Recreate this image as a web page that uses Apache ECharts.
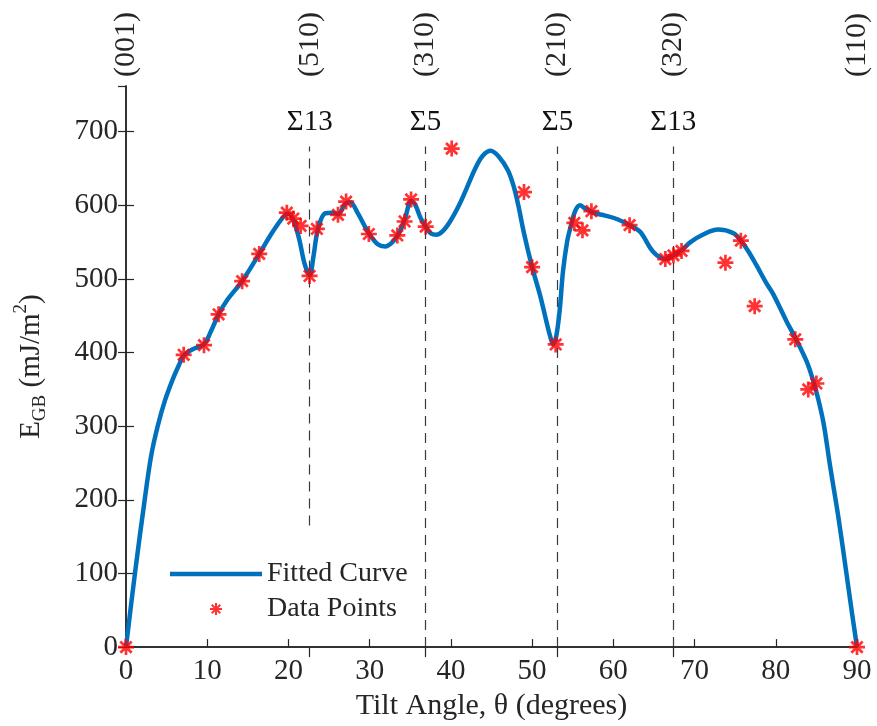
<!DOCTYPE html>
<html>
<head>
<meta charset="utf-8">
<script src="https://cdn.jsdelivr.net/npm/echarts@6/dist/echarts.min.js"></script>
<style>html,body{margin:0;padding:0;background:#fff;}#c{width:877px;height:726px;}</style>
</head>
<body>
<div id="c"></div>
<script>
// Fitted curve
const curveX = [0,1.1,2.3,3.1,3.9,4.8,5.8,6.6,7.1,8.3,9.6,10.5,11.4,12.5,14.3,16.4,18.0,19.2,19.9,20.6,21.3,22.0,22.6,23.1,23.6,24.5,25.5,26.1,27.0,27.6,28.5,29.9,31.0,31.9,32.8,33.6,34.4,35.1,35.6,36.3,36.9,37.5,38.2,39.0,39.9,41.0,41.9,43.0,43.9,44.9,45.9,47.0,47.7,48.3,49.0,50.0,51.0,51.7,52.2,52.6,53.0,53.4,53.8,54.3,54.7,55.3,55.9,56.5,57.5,59.0,60.5,62.0,63.3,64.9,66.4,67.4,68.4,69.5,71.0,72.9,74.8,75.7,76.6,77.6,78.8,79.7,81.3,82.4,83.8,84.6,85.2,85.9,86.7,87.7,88.7,89.4,90];
const curveY = [0,100,200,260,300,335,365,385,396,405,411,430,452,472,497,534,563,582,589,580,555,520,505,532,566,589,590,588,602,604,590,562,547,544,550,562,584,606,601,582,571,562,560,565,578,600,622,650,667,674,666,648,627,600,562,516,477,445,423,411,424,458,510,550,569,592,600,596,590,586,581,573,564,537,527,532,539,550,560,567,562,552,538,519,495,479,443,420,388,362,338,303,245,177,100,45,0];
// Data points
const ptX = [0,7.1,9.6,11.4,14.3,16.4,19.8,20.6,21.5,22.6,23.5,26.1,27.1,29.9,33.4,34.3,35.1,36.9,40.1,49.0,50.0,52.9,55.2,56.2,57.3,62.0,66.4,67.4,68.4,73.8,75.7,77.4,82.4,84.0,85.0,90];
const ptY = [0,397,410,452,497,534,590,582,572,504,568,587,605,561,559,578,608,571,677,618,516,411,576,566,592,573,527,532,538,522,552,463,418,350,358,0];
// Top orientation labels
const orientAngles = [0,22.62,36.87,53.13,67.38,90];
const orientNames = ['(001)','(510)','(310)','(210)','(320)','(110)'];
// Sigma boundaries (dashed reference lines)
const sigmaAngles = [22.62,36.87,53.13,67.38];
const sigmaNames = ['Σ13','Σ5','Σ5','Σ13'];
const sigmaBottom = [165,0,0,0];
const sigmaTop = 680;
const yTicks = [0,100,200,300,400,500,600,700];

const FF = '"Liberation Serif","Times New Roman",serif';
const TC = '#262626';
const AX = '#262626';
const star = 'path://M0,8.3L20,8.3L20,11.7L0,11.7Z M8.3,0L11.7,0L11.7,20L8.3,20Z M4.13,1.73L18.27,15.87L15.87,18.27L1.73,4.13Z M15.87,1.73L18.27,4.13L4.13,18.27L1.73,15.87Z';
const lineIcon = 'path://M0,0L92,0L92,0.01L0,0.01Z M0,3.75L92,3.75L92,8.25L0,8.25Z M0,11.99L92,11.99L92,12L0,12Z';

const chart = echarts.init(document.getElementById('c'), null, {renderer:'canvas'});
const axisLine = {show:true, lineStyle:{color:AX, width:1.5}};
const option = {
  backgroundColor:'#fff',
  animation:false,
  grid:{left:126, right:20, top:86, bottom:75, containLabel:false},
  xAxis:[{
    type:'value', position:'bottom', min:0, max:90, interval:10,
    axisLine:axisLine, splitLine:{show:false},
    axisTick:{show:true, inside:true, length:8, lineStyle:{color:AX, width:1.2}},
    axisLabel:{fontSize:29, fontFamily:FF, color:TC, margin:10},
    name:'Tilt Angle, θ (degrees)', nameLocation:'middle', nameGap:42,
    nameTextStyle:{fontSize:30, fontFamily:FF, color:TC}
  },{
    type:'value', position:'top', min:0, max:90,
    axisLine:axisLine, splitLine:{show:false},
    axisTick:{show:true, inside:true, length:10, customValues:sigmaAngles, lineStyle:{color:AX, width:1.2}},
    axisLabel:{show:true, rotate:90, fontSize:30, fontFamily:FF, color:TC, margin:9,
      customValues:orientAngles,
      formatter:function(v){const i=orientAngles.indexOf(v); return i>=0?orientNames[i]:'';}}
  }],
  yAxis:[{
    type:'value', position:'left', min:0, max:762, interval:100,
    axisLine:axisLine, splitLine:{show:false},
    axisTick:{show:true, inside:true, length:8, lineStyle:{color:AX, width:1.2}},
    axisLabel:{fontSize:29, fontFamily:FF, color:TC, margin:8, showMaxLabel:false,
      formatter:function(v){return yTicks.indexOf(v)>=0?String(v):'';}},
    name:'{a|E}{s|GB}{a| (mJ/m}{p|2}{a|)}', nameLocation:'middle', nameGap:76,
    nameTextStyle:{fontFamily:FF, color:TC, rich:{
      a:{fontSize:29, fontFamily:FF, color:TC, lineHeight:38, verticalAlign:'middle'},
      s:{fontSize:19, fontFamily:FF, color:TC, lineHeight:19, verticalAlign:'bottom'},
      p:{fontSize:19, fontFamily:FF, color:TC, lineHeight:19, verticalAlign:'top'}
    }}
  },{
    type:'value', position:'right', min:0, max:762, interval:100,
    axisLine:axisLine, splitLine:{show:false},
    axisTick:{show:true, inside:true, length:8, lineStyle:{color:AX, width:1.2}},
    axisLabel:{show:false}
  }],
  legend:{
    orient:'vertical', left:170, top:560, padding:0,
    itemWidth:92, itemHeight:12, itemGap:7,
    textStyle:{fontSize:28, fontFamily:FF, color:TC},
    data:[{name:'Fitted Curve', icon:lineIcon, itemStyle:{color:'#0072BD', borderWidth:0}},
          {name:'Data Points', icon:star, itemStyle:{color:'#FF0000', borderWidth:0}}]
  },
  series:[{
    name:'Fitted Curve', type:'line', xAxisIndex:0, yAxisIndex:0,
    data:curveX.map((x,i)=>[x,curveY[i]]),
    smooth:0.35, showSymbol:false, symbol:'none',
    lineStyle:{color:'#0072BD', width:4.5}, itemStyle:{color:'#0072BD'}, z:3,
    markLine:{
      silent:true, symbol:['none','none'], z:1,
      lineStyle:{color:'#3a3a3a', width:1.2, type:[10,7]},
      label:{show:true, position:'end', distance:9, fontSize:29, fontFamily:FF, color:'#111', formatter:'{b}'},
      data: sigmaAngles.map((a,i)=>[{name:sigmaNames[i], coord:[a,sigmaBottom[i]]},{coord:[a,sigmaTop]}])
    }
  },{
    name:'Data Points', type:'scatter', xAxisIndex:0, yAxisIndex:0,
    data:ptX.map((x,i)=>[x,ptY[i]]),
    symbol:star, symbolSize:16, itemStyle:{color:'#FF0000'}, clip:false, z:4
  }]
};
chart.setOption(option);
</script>
</body>
</html>
